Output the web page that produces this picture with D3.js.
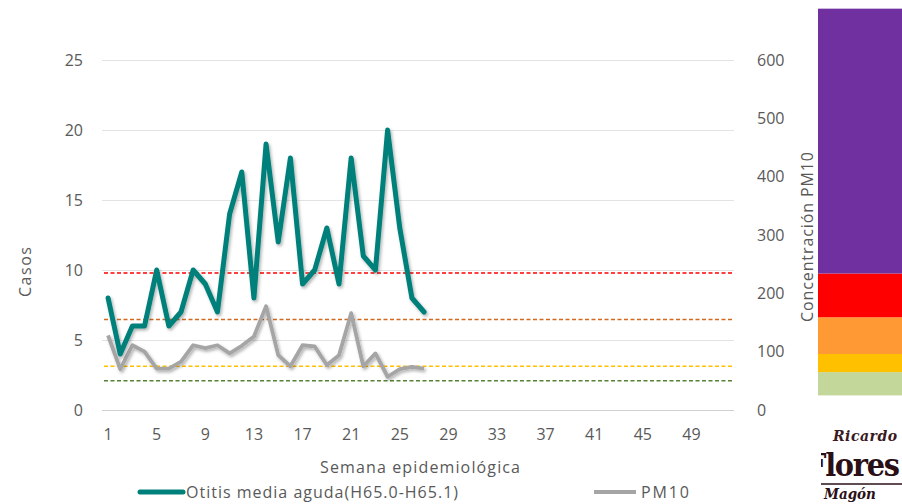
<!DOCTYPE html>
<html>
<head>
<meta charset="utf-8">
<script src="https://cdn.jsdelivr.net/npm/d3@7"></script>
<style>
  body { margin: 0; background: #fff; }
  svg text { font-family: "Open Sans", "Noto Sans", sans-serif; fill: #595959; }
</style>
</head>
<body>
<div id="chart"></div>
<script>
// semanas 1..52
const weeks = d3.range(1, 53);
const weekTicks = weeks.filter((w) => (w - 1) % 4 === 0);

// casos de otitis media aguda, semanas 1-27 (eje izquierdo)
const otitis = [8, 4, 6, 6, 10, 6, 7, 10, 9, 7, 14, 17, 8, 19, 12, 18, 9, 10, 13, 9, 18, 11, 10, 20, 13, 8, 7];
// concentracion PM10 semanal (eje derecho)
const pm10 = [128, 70, 111, 100, 71, 71, 83, 111, 106, 111, 97, 110, 126, 178, 94, 75, 111, 109, 77, 94, 166, 75, 97, 57, 70, 74, 71];

const leftTicks = [0, 5, 10, 15, 20, 25];
const rightTicks = [0, 100, 200, 300, 400, 500, 600];

// limites de calidad del aire (PM10)
const limits = [235, 155, 75, 50];
const limitColors = ["#FF0000", "#D2691E", "#FFC000", "#548235"];

// franjas de color a la derecha
const bandLow = [25, 65, 96, 159, 234];
const bandHigh = [65, 96, 159, 234, 688];
const bandColors = ["#C4D79B", "#FFC000", "#FF9933", "#FF0000", "#7030A0"];

const width = 902;
const height = 504;
const mLeft = 102, mRight = 734, mTop = 60, mBottom = 410;

const svg = d3
  .select("#chart")
  .append("svg")
  .attr("width", width)
  .attr("height", height);

let defs = svg.append("defs");
defs
  .append("filter")
  .attr("id", "shadow")
  .attr("x", "-10%").attr("y", "-10%")
  .attr("width", "130%").attr("height", "130%")
  .append("feDropShadow")
  .attr("dx", 1.5)
  .attr("dy", 2)
  .attr("stdDeviation", 1.5)
  .attr("flood-color", "#000")
  .attr("flood-opacity", 0.3);
defs
  .append("clipPath")
  .attr("id", "logoclip")
  .append("rect")
  .attr("x", 821).attr("y", 426).attr("width", 81).attr("height", 78);

let x = d3.scaleBand().domain(weeks).range([mLeft, mRight]);
let yL = d3.scaleLinear().domain([0, 25]).range([mBottom, mTop]);
let yR = d3.scaleLinear().domain([0, 600]).range([mBottom, mTop]);

// franjas
svg
  .selectAll("rect.band")
  .data(bandColors)
  .enter()
  .append("rect")
  .attr("class", "band")
  .attr("x", 818)
  .attr("width", width - 818)
  .attr("y", (d, i) => yR(bandHigh[i]))
  .attr("height", (d, i) => yR(bandLow[i]) - yR(bandHigh[i]))
  .attr("fill", (d) => d);

// gridlines
let grid = svg
  .append("g")
  .attr("transform", "translate(" + mLeft + ",0)")
  .call(d3.axisLeft(yL).tickValues(leftTicks).tickSize(-(mRight - mLeft)).tickFormat(""));
grid.select(".domain").remove();
grid.selectAll("line").attr("stroke", "#E3E3E3").attr("stroke-width", 1);
grid.selectAll("line").filter((d) => d === 0).attr("stroke", "#D0D0D0");

// eje izquierdo
let gLeft = svg
  .append("g")
  .attr("transform", "translate(" + 83 + ",0)")
  .call(d3.axisLeft(yL).tickValues(leftTicks).tickSize(0).tickPadding(0));
gLeft.select(".domain").remove();
gLeft.selectAll("text").style("font-size", "16px").attr("fill", "#595959");

// eje derecho
let gRight = svg
  .append("g")
  .attr("transform", "translate(" + 757 + ",0)")
  .call(d3.axisRight(yR).tickValues(rightTicks).tickSize(0).tickPadding(0));
gRight.select(".domain").remove();
gRight.selectAll("text").style("font-size", "16px").attr("fill", "#595959");

// eje x
let gX = svg
  .append("g")
  .attr("transform", "translate(0," + 429 + ")")
  .call(d3.axisBottom(x).tickValues(weekTicks).tickSize(0).tickPadding(0));
gX.select(".domain").remove();
gX.selectAll("text").style("font-size", "16px").attr("fill", "#595959");

// titulos
svg
  .append("text")
  .attr("transform", "translate(31,272) rotate(-90)")
  .attr("text-anchor", "middle")
  .style("font-size", "16px")
  .attr("textLength", 50)
  .text("Casos");
svg
  .append("text")
  .attr("transform", "translate(813,237) rotate(-90)")
  .attr("text-anchor", "middle")
  .style("font-size", "16px")
  .attr("textLength", 170)
  .text("Concentración PM10");
svg
  .append("text")
  .attr("x", 420)
  .attr("y", 473)
  .attr("text-anchor", "middle")
  .style("font-size", "16px")
  .attr("textLength", 200)
  .text("Semana epidemiológica");

// lineas de limite
svg
  .selectAll("line.limit")
  .data(limits)
  .enter()
  .append("line")
  .attr("class", "limit")
  .attr("x1", x(1) + 2)
  .attr("x2", mRight)
  .attr("y1", (d) => yR(d))
  .attr("y2", (d) => yR(d))
  .attr("stroke", (d, i) => limitColors[i])
  .attr("stroke-width", 1.5)
  .attr("stroke-dasharray", "4,2.5");

let cx = (i) => x(weeks[i]) + x.bandwidth() / 2;

// PM10
svg
  .append("path")
  .datum(pm10)
  .attr("fill", "none")
  .attr("stroke", "#A5A5A5")
  .attr("stroke-width", 3.8)
  .attr("stroke-linejoin", "round")
  .attr("filter", "url(#shadow)")
  .attr("d", d3.line().x((d, i) => cx(i)).y((d) => yR(d)));

// otitis
svg
  .append("path")
  .datum(otitis)
  .attr("fill", "none")
  .attr("stroke", "#00807A")
  .attr("stroke-width", 5)
  .attr("stroke-linejoin", "round")
  .attr("stroke-linecap", "round")
  .attr("filter", "url(#shadow)")
  .attr("d", d3.line().x((d, i) => cx(i)).y((d) => yL(d)));

// leyenda
let legend = svg.append("g");
legend
  .append("line")
  .attr("x1", 140).attr("x2", 183).attr("y1", 492).attr("y2", 492)
  .attr("stroke", "#00807A").attr("stroke-width", 5).attr("stroke-linecap", "round");
legend
  .append("text")
  .attr("x", 186).attr("y", 498)
  .style("font-size", "16px")
  .attr("textLength", 272)
  .text("Otitis media aguda(H65.0-H65.1)");
legend
  .append("line")
  .attr("x1", 594).attr("x2", 636).attr("y1", 492).attr("y2", 492)
  .attr("stroke", "#A5A5A5").attr("stroke-width", 3.8);
legend
  .append("text")
  .attr("x", 641).attr("y", 498)
  .style("font-size", "16px")
  .attr("textLength", 48)
  .text("PM10");

// logo
let logo = svg.append("g").attr("clip-path", "url(#logoclip)");
logo
  .append("text")
  .attr("x", 833).attr("y", 441)
  .style("font-family", "'DejaVu Serif', serif")
  .style("font-style", "italic")
  .style("font-weight", "bold")
  .style("font-size", "14px")
  .style("fill", "#3a1a22")
  .attr("textLength", 64)
  .text("Ricardo");
logo
  .append("text")
  .attr("x", 806).attr("y", 476)
  .style("font-family", "'DejaVu Serif Condensed', 'DejaVu Serif', serif")
  .style("font-weight", "bold")
  .style("font-size", "32px")
  .style("fill", "#2a1016")
  .attr("textLength", 94)
  .text("Flores");
logo
  .append("line")
  .attr("x1", 821).attr("x2", 902).attr("y1", 484).attr("y2", 484)
  .attr("stroke", "#2a1016").attr("stroke-width", 1.5);
logo
  .append("text")
  .attr("x", 824).attr("y", 499)
  .style("font-family", "'DejaVu Serif Condensed', 'DejaVu Serif', serif")
  .style("font-weight", "bold")
  .style("font-style", "italic")
  .style("font-size", "15px")
  .style("fill", "#2a1016")
  .text("Magón");
</script>
</body>
</html>
